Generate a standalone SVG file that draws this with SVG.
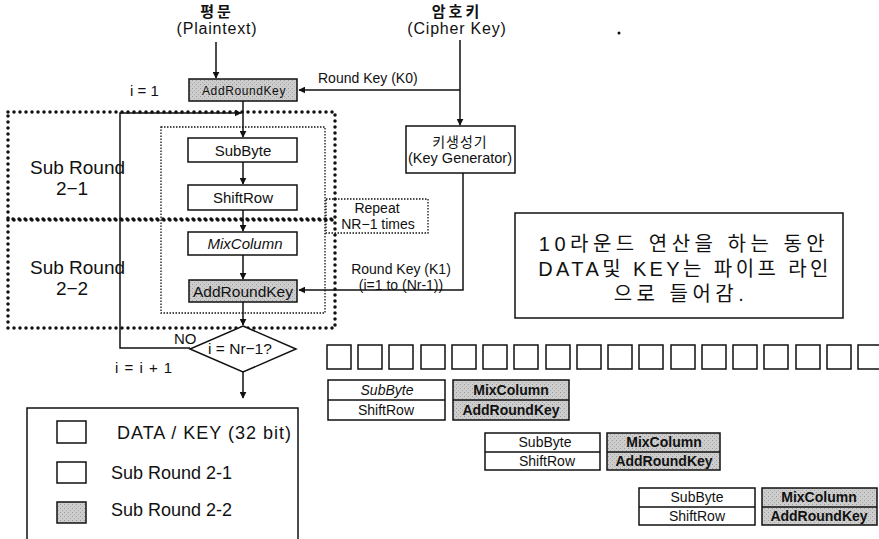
<svg xmlns="http://www.w3.org/2000/svg" width="879" height="539" viewBox="0 0 879 539">
<defs>
<marker id="ah" viewBox="0 0 10 10" refX="9" refY="5" markerWidth="7" markerHeight="7" markerUnits="userSpaceOnUse" orient="auto">
<path d="M0,0 L10,5 L0,10 z" fill="#111"/>
</marker>
<pattern id="dither" width="4" height="4" patternUnits="userSpaceOnUse">
<rect width="4" height="4" fill="#cdcdcd"/>
<rect x="0" y="0" width="1" height="1" fill="#9a9a9a"/>
<rect x="2" y="2" width="1" height="1" fill="#a8a8a8"/>
</pattern>
</defs>
<style>
text{font-family:"Liberation Sans","Noto Sans CJK KR",sans-serif;fill:#111}
.box{fill:#fff;stroke:#111;stroke-width:1.5}
.gbox{fill:url(#dither);stroke:#111;stroke-width:1.5}
.ln{fill:none;stroke:#111;stroke-width:1.5}
.thick{fill:none;stroke:#111;stroke-width:3.5;stroke-dasharray:0 6;stroke-linecap:round}
.thin{fill:none;stroke:#111;stroke-width:1.3;stroke-dasharray:1.5 1.5}
.t14{font-size:14px}
.t15{font-size:15px}
.t18{font-size:18px}
.t19{font-size:19px}
.c{text-anchor:middle}
.p{font-size:14px}
.pb{font-size:14px;font-weight:bold}
</style>
<rect width="879" height="539" fill="#fff"/>
<circle cx="619" cy="33" r="1.5" fill="#111"/>

<g id="connectors">
<line class="ln" x1="216" y1="42" x2="216" y2="78" marker-end="url(#ah)"/>
<line class="ln" x1="460" y1="40" x2="460" y2="125" marker-end="url(#ah)"/>
<line class="ln" x1="460" y1="90" x2="299" y2="90" marker-end="url(#ah)"/>
<line class="ln" x1="243" y1="101" x2="243" y2="137" marker-end="url(#ah)"/>
<line class="ln" x1="243" y1="162" x2="243" y2="184" marker-end="url(#ah)"/>
<line class="ln" x1="243" y1="210" x2="243" y2="231" marker-end="url(#ah)"/>
<line class="ln" x1="243" y1="255" x2="243" y2="279" marker-end="url(#ah)"/>
<line class="ln" x1="243" y1="302" x2="243" y2="325" marker-end="url(#ah)"/>
<line class="ln" x1="243" y1="372" x2="243" y2="398" marker-end="url(#ah)"/>
<path class="ln" d="M190,348 H120 V113 H241" marker-end="url(#ah)"/>
<path class="ln" d="M463,173 V290 H299" marker-end="url(#ah)"/>
</g>

<g id="labels">
<text class="c" x="217" y="17" font-size="15" font-weight="bold" letter-spacing="3">평문</text>
<text class="c" x="217" y="34" font-size="16" letter-spacing="0.8">(Plaintext)</text>
<text class="c" x="457" y="17" font-size="15" font-weight="bold" letter-spacing="3">암호키</text>
<text class="c" x="457" y="34" font-size="16" letter-spacing="0.8">(Cipher Key)</text>
<text class="t14" x="318" y="83">Round Key (K0)</text>
<text class="t15" x="130" y="96">i = 1</text>
<text class="t14 c" x="401" y="274">Round Key (K1)</text>
<text class="t14 c" x="401" y="290">(i=1 to (Nr-1))</text>
<text class="t15" x="174" y="344">NO</text>
<text class="t15" x="115" y="373" letter-spacing="1">i = i + 1</text>
<text class="t19" x="30" y="174">Sub Round</text>
<text class="t19 c" x="72" y="195">2−1</text>
<text class="t19" x="30" y="274">Sub Round</text>
<text class="t19 c" x="72" y="295">2−2</text>
</g>

<g id="subround21">
<rect class="thick" x="8" y="112" width="327" height="107"/>
</g>
<g id="subround22">
<rect class="thick" x="8" y="220" width="327" height="108"/>
</g>
<g id="repeat-region">
<rect class="thin" x="161" y="127" width="164" height="186"/>
</g>

<g id="addroundkey0">
<rect class="gbox" x="189" y="79" width="108" height="22"/>
<text class="c" x="244" y="95" font-size="12" letter-spacing="0.6">AddRoundKey</text>
</g>
<g id="subbyte">
<rect class="box" x="188" y="138" width="109" height="24"/>
<text class="t15 c" x="243" y="156">SubByte</text>
</g>
<g id="shiftrow">
<rect class="box" x="188" y="185" width="109" height="25"/>
<text class="t15 c" x="243" y="203">ShiftRow</text>
</g>
<g id="mixcolumn">
<rect class="box" x="188" y="232" width="109" height="23"/>
<text class="t15 c" x="245" y="249" font-style="italic">MixColumn</text>
</g>
<g id="addroundkey1">
<rect class="gbox" x="189" y="280" width="108" height="22"/>
<text class="c" x="243" y="297" font-size="15.5">AddRoundKey</text>
</g>
<g id="decision">
<polygon class="box" points="243,326 296,349 243,372 190,349"/>
<text class="c" x="240" y="354" font-size="15.5">i = Nr−1?</text>
</g>
<g id="keygen">
<rect class="box" x="406" y="126" width="109" height="47"/>
<text class="c" x="460" y="147" font-size="14" letter-spacing="1">키생성기</text>
<text class="c" x="460" y="163" font-size="14.5">(Key Generator)</text>
</g>
<g id="repeat-note">
<rect class="thin" x="326" y="199" width="102" height="34" fill="#fff"/>
<text class="t14 c" x="377" y="213">Repeat</text>
<text class="t14 c" x="378" y="229">NR−1 times</text>
</g>

<g id="note">
<rect class="box" x="515" y="213" width="328" height="105"/>
<text class="c" x="684" y="251" font-size="20" letter-spacing="4.5">10라운드 연산을 하는 동안</text>
<text class="c" x="685" y="276" font-size="20" letter-spacing="3.4">DATA및 KEY는 파이프 라인</text>
<text class="c" x="681" y="301" font-size="20" letter-spacing="4.5">으로 들어감.</text>
</g>

<g id="data-key-row">
<rect class="box" x="327" y="345" width="24" height="24"/>
<rect class="box" x="358" y="345" width="24" height="24"/>
<rect class="box" x="389" y="345" width="24" height="24"/>
<rect class="box" x="421" y="345" width="24" height="24"/>
<rect class="box" x="452" y="345" width="24" height="24"/>
<rect class="box" x="483" y="345" width="24" height="24"/>
<rect class="box" x="514" y="345" width="24" height="24"/>
<rect class="box" x="546" y="345" width="24" height="24"/>
<rect class="box" x="577" y="345" width="24" height="24"/>
<rect class="box" x="608" y="345" width="24" height="24"/>
<rect class="box" x="639" y="345" width="24" height="24"/>
<rect class="box" x="671" y="345" width="24" height="24"/>
<rect class="box" x="702" y="345" width="24" height="24"/>
<rect class="box" x="733" y="345" width="24" height="24"/>
<rect class="box" x="764" y="345" width="24" height="24"/>
<rect class="box" x="796" y="345" width="24" height="24"/>
<rect class="box" x="827" y="345" width="24" height="24"/>
<rect class="box" x="858" y="345" width="24" height="24"/>
</g>

<g id="pipe1">
<rect class="box" x="328" y="380" width="117" height="40"/>
<line class="ln" x1="328" y1="400" x2="445" y2="400"/>
<text class="p c" x="387" y="395" font-style="italic">SubByte</text>
<text class="p c" x="386" y="415">ShiftRow</text>
<rect class="gbox" x="453" y="380" width="116" height="40"/>
<line class="ln" x1="453" y1="400" x2="569" y2="400"/>
<text class="pb c" x="511" y="395">MixColumn</text>
<text class="pb c" x="511" y="415">AddRoundKey</text>
</g>
<g id="pipe2">
<rect class="box" x="485" y="433" width="115" height="37"/>
<line class="ln" x1="485" y1="452" x2="600" y2="452"/>
<text class="p c" x="545" y="447">SubByte</text>
<text class="p c" x="547" y="466">ShiftRow</text>
<rect class="gbox" x="607" y="433" width="113" height="37"/>
<line class="ln" x1="607" y1="452" x2="720" y2="452"/>
<text class="pb c" x="664" y="447">MixColumn</text>
<text class="pb c" x="664" y="466">AddRoundKey</text>
</g>
<g id="pipe3">
<rect class="box" x="639" y="488" width="116" height="37"/>
<line class="ln" x1="639" y1="507" x2="755" y2="507"/>
<text class="p c" x="697" y="502">SubByte</text>
<text class="p c" x="697" y="521">ShiftRow</text>
<rect class="gbox" x="762" y="488" width="115" height="37"/>
<line class="ln" x1="762" y1="507" x2="877" y2="507"/>
<text class="pb c" x="819" y="502">MixColumn</text>
<text class="pb c" x="819" y="521">AddRoundKey</text>
</g>

<g id="legend">
<rect class="box" x="27" y="408" width="271" height="140"/>
<rect class="box" x="57" y="421" width="29" height="22"/>
<text class="t18" x="117" y="439" letter-spacing="1">DATA / KEY (32 bit)</text>
<rect class="box" x="57" y="462" width="29" height="21"/>
<text class="t18" x="111" y="479">Sub Round 2-1</text>
<rect class="gbox" x="57" y="502" width="29" height="21"/>
<text class="t18" x="111" y="516">Sub Round 2-2</text>
</g>
</svg>
